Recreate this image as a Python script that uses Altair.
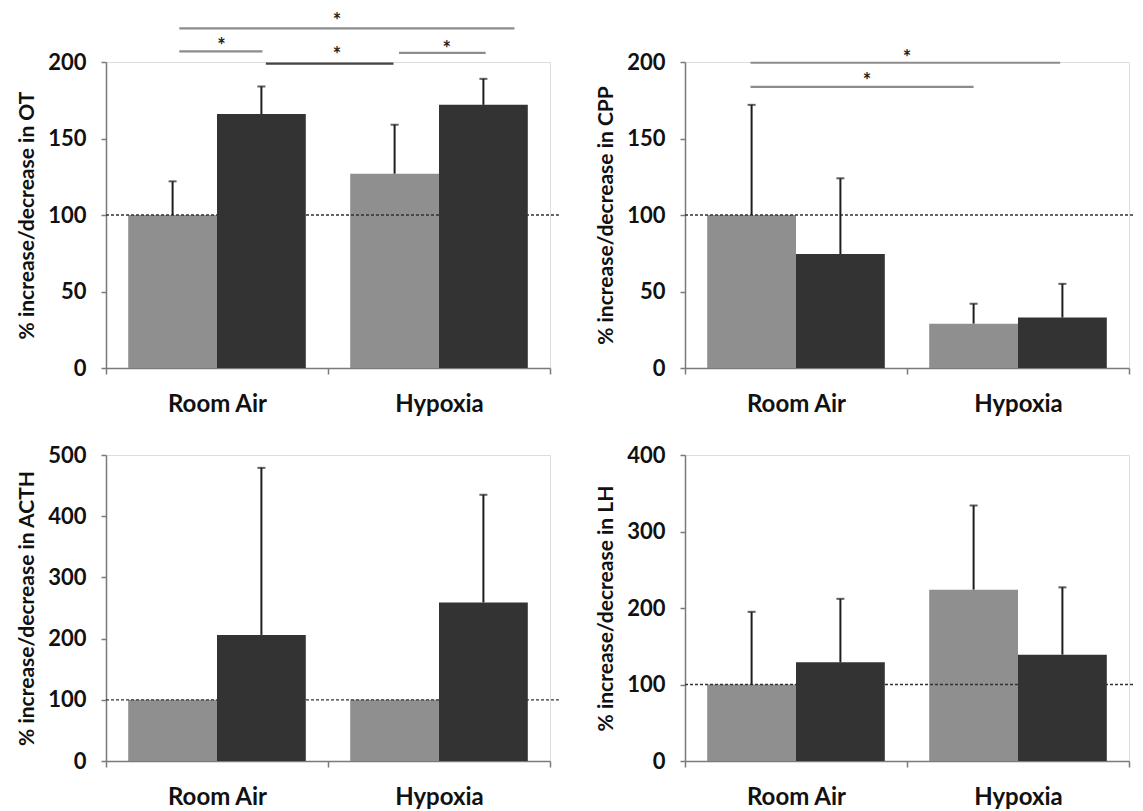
import altair as alt
import pandas as pd

FONT = "Lato"

groups = ["Room Air", "Hypoxia"]
series = ["Series A", "Series B"]
bar_colors = ["#8f8f8f", "#333333"]

# order: Room Air A, Room Air B, Hypoxia A, Hypoxia B
ot_mean = [100, 166, 127, 172]
ot_err = [22, 18, 32, 17]
cpp_mean = [100, 74.5, 29, 33]
cpp_err = [72, 49.5, 13, 22]
acth_mean = [100, 206, 100, 259]
acth_err = [0, 273, 0, 176]
lh_mean = [100, 129, 224, 139]
lh_err = [95, 83, 110, 88]

# significance brackets (x in group units, y in data units)
ot_br_x1 = [0.33, 0.33, 0.72, 1.32]
ot_br_x2 = [1.84, 0.705, 1.295, 1.71]
ot_br_y = [222, 207, 199, 206]
ot_br_color = ["#8c8c8c", "#8c8c8c", "#444444", "#8c8c8c"]
ot_star_x = [1.04, 0.52, 1.04, 1.535]
ot_star_y = [230, 214, 208, 212]

cpp_br_x1 = [0.295, 0.295]
cpp_br_x2 = [1.69, 1.30]
cpp_br_y = [199.5, 183.7]
cpp_br_color = ["#8c8c8c", "#8c8c8c"]
cpp_star_x = [1.00, 0.82]
cpp_star_y = [206, 191]

AXIS_COLOR = "#7a7a7a"
W, H = 444, 306

label_expr = " : ".join(
    f"datum.value == {i + 0.5} ? '{g}'" for i, g in enumerate(groups)
) + " : ''"


def panel(name, means, errs, ymax, ystep, ref_end, br=None, stars=None):
    rows = []
    for gi, g in enumerate(groups):
        for si, s in enumerate(series):
            k = gi * len(series) + si
            rows.append(dict(group=g, series=s, gi=gi, si=si,
                             mean=means[k], err=errs[k]))
    df = pd.DataFrame(rows)

    xs = alt.Scale(domain=[0, len(groups)], nice=False, zero=False)
    ys = alt.Scale(domain=[0, ymax], nice=False)
    xaxis = alt.Axis(
        values=[0, 0.5, 1, 1.5, 2], labelExpr=label_expr, title=None,
        grid=False, labelOverlap=False, labelFlush=False,
        tickColor={"condition": {"test": "datum.value % 1 != 0", "value": "transparent"},
                   "value": AXIS_COLOR},
        tickSize=6, tickWidth=1.5, domainColor=AXIS_COLOR, domainWidth=1.5,
        labelFont=FONT, labelFontSize=24, labelFontWeight="bold",
        labelColor="#111", labelPadding=18,
    )
    yaxis = alt.Axis(
        values=list(range(0, ymax + 1, ystep)),
        title=f"% increase/decrease in {name}", grid=False,
        tickColor=AXIS_COLOR, tickSize=5, tickWidth=1.5,
        domainColor=AXIS_COLOR, domainWidth=1.5,
        labelFont=FONT, labelFontSize=22, labelFontWeight="bold",
        labelColor="#111", labelPadding=15,
        titleFont=FONT, titleFontSize=21, titleFontWeight="bold",
        titleColor="#111", titlePadding=10,
    )
    X = lambda f: alt.X(f, scale=xs, axis=xaxis)
    Y = lambda f: alt.Y(f, scale=ys, axis=yaxis, stack=None)

    base = alt.Chart(df).transform_calculate(
        x0="datum.gi + 0.1 + 0.4 * datum.si",
        x1="datum.gi + 0.5 + 0.4 * datum.si",
        xc="datum.gi + 0.3 + 0.4 * datum.si",
        top="datum.mean + datum.err",
        zero="0",
    )
    bars = base.mark_bar().encode(
        x=X("x0:Q"), x2="x1:Q", y=Y("mean:Q"), y2="zero:Q",
        color=alt.Color("series:N", scale=alt.Scale(domain=series, range=bar_colors),
                        legend=None),
    )
    eb = base.transform_filter("datum.err > 0")
    err = eb.mark_rule(color="#1e1e1e", strokeWidth=2).encode(
        x=X("xc:Q"), y=Y("mean:Q"), y2="top:Q")
    cap = eb.mark_tick(orient="horizontal", size=8, thickness=2, color="#1e1e1e").encode(
        x=X("xc:Q"), y=Y("top:Q"))

    ref_df = pd.DataFrame({"x0": [0], "x1": [ref_end], "y": [100]})
    ref = alt.Chart(ref_df).mark_rule(strokeDash=[3, 2], color="#333", strokeWidth=1.3).encode(
        x=X("x0:Q"), x2="x1:Q", y=Y("y:Q"))

    layers = [bars, ref, err, cap]
    if br is not None:
        bdf = pd.DataFrame({"x0": br[0], "x1": br[1], "y": br[2], "c": br[3]})
        blines = alt.Chart(bdf).mark_rule(strokeWidth=2.2).encode(
            x=X("x0:Q"), x2="x1:Q", y=Y("y:Q"),
            color=alt.Color("c:N", scale=None))
        sdf = pd.DataFrame({"x": stars[0], "y": stars[1], "t": ["*"] * len(stars[0])})
        st = alt.Chart(sdf).mark_text(font=FONT, fontSize=20, fontWeight="bold",
                                      color="#222", dy=6).encode(
            x=X("x:Q"), y=Y("y:Q"), text="t:N")
        layers += [blines, st]
    return alt.layer(*layers).properties(width=W, height=H)


p1 = panel("OT", ot_mean, ot_err, 200, 50, 2.04,
           (ot_br_x1, ot_br_x2, ot_br_y, ot_br_color), (ot_star_x, ot_star_y))
p2 = panel("CPP", cpp_mean, cpp_err, 200, 50, 2.02,
           (cpp_br_x1, cpp_br_x2, cpp_br_y, cpp_br_color), (cpp_star_x, cpp_star_y))
p3 = panel("ACTH", acth_mean, acth_err, 500, 100, 2.04)
p4 = panel("LH", lh_mean, lh_err, 400, 100, 2.02)

chart = alt.vconcat(
    alt.hconcat(p1, p2, spacing=34),
    alt.hconcat(p3, p4, spacing=34),
    spacing=26,
).properties(padding={"left": 8, "top": 3, "right": 0, "bottom": 0}).configure_view(
    stroke=None
).configure(background="white")

chart.save("out.html", embed_options={"renderer": "svg", "actions": False})
